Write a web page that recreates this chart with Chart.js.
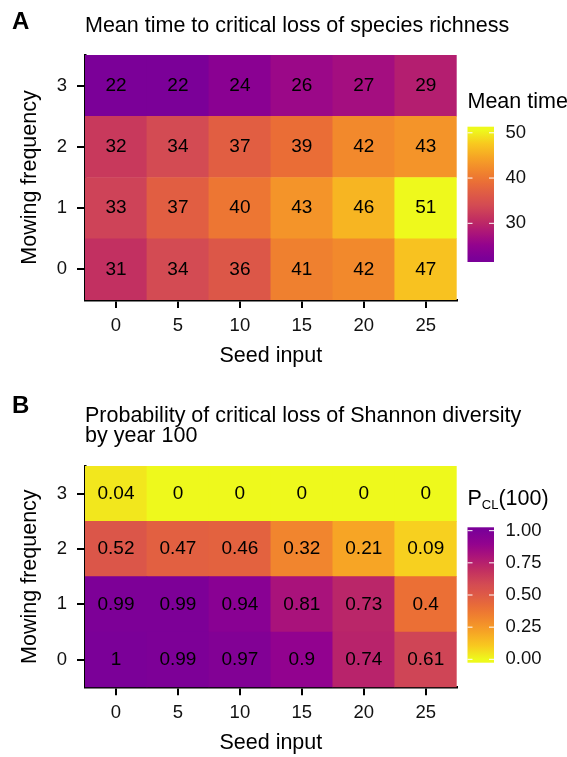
<!DOCTYPE html>
<html>
<head>
<meta charset="utf-8">
<script src="https://cdn.jsdelivr.net/npm/chart.js@4.4.0/dist/chart.umd.min.js"></script>
<style>
  html, body { margin: 0; padding: 0; background: #fff; }
  canvas { display: block; }
</style>
</head>
<body>
<canvas id="chartA" width="567" height="378"></canvas>
<canvas id="chartB" width="567" height="379"></canvas>
<script>
var seedInput = ['0', '5', '10', '15', '20', '25'];
var mowingFrequency = [0, 1, 2, 3];

// A: mean time to critical loss of species richness, one row per mowing frequency
var timeMow0 = [31, 34, 36, 41, 42, 47];
var timeMow1 = [33, 37, 40, 43, 46, 51];
var timeMow2 = [32, 34, 37, 39, 42, 43];
var timeMow3 = [22, 22, 24, 26, 27, 29];
var timeLimits = [22.2, 50.6];
var timeTicks = [30, 40, 50];

// B: probability of critical loss of Shannon diversity by year 100
var probMow0 = [1, 0.99, 0.97, 0.9, 0.74, 0.61];
var probMow1 = [0.99, 0.99, 0.94, 0.81, 0.73, 0.4];
var probMow2 = [0.52, 0.47, 0.46, 0.32, 0.21, 0.09];
var probMow3 = [0.04, 0, 0, 0, 0, 0];
var probLimits = [0, 1];
var probTicks = [0, 0.25, 0.5, 0.75, 1];

var paletteStops = ['#7b0098', '#92028f', '#ac1479', '#c02d62', '#d14855', '#de5a46',
                    '#eb6f35', '#f28a2c', '#f7a824', '#f8cb1f', '#eef91c'];

var FONT = "'Liberation Sans', Arial, Helvetica, sans-serif";
Chart.defaults.font.family = FONT;
Chart.defaults.color = '#000';

function hexToRgb(h) {
  return [parseInt(h.substr(1, 2), 16), parseInt(h.substr(3, 2), 16), parseInt(h.substr(5, 2), 16)];
}
function palette(t) {
  t = Math.max(0, Math.min(1, t));
  var n = paletteStops.length - 1;
  var i = Math.min(Math.floor(t * n), n - 1), f = t * n - i;
  var a = hexToRgb(paletteStops[i]), b = hexToRgb(paletteStops[i + 1]);
  return 'rgb(' + a.map(function (c, k) { return Math.round(c + (b[k] - c) * f); }).join(',') + ')';
}
function timeColour(v) { return palette((v - timeLimits[0]) / (timeLimits[1] - timeLimits[0])); }
function probColour(v) { return palette(1 - (v - probLimits[0]) / (probLimits[1] - probLimits[0])); }

function heatmap(id, rows, colour, cfg) {
  var datasets = rows.map(function (vals, r) {
    var m = mowingFrequency[r];
    return {
      data: vals.map(function () { return [m - 0.5, m + 0.5]; }),
      backgroundColor: vals.map(colour),
      borderWidth: 0,
      barPercentage: 1,
      categoryPercentage: 1,
      grouped: false
    };
  });

  // numbers written in the tiles
  var cellLabels = {
    id: 'cellLabels',
    afterDatasetsDraw: function (chart) {
      var ctx = chart.ctx, xs = chart.scales.x, ys = chart.scales.y;
      ctx.save();
      ctx.font = '19px ' + FONT;
      ctx.fillStyle = '#000';
      ctx.textAlign = 'center';
      ctx.textBaseline = 'middle';
      rows.forEach(function (vals, r) {
        vals.forEach(function (v, i) {
          ctx.fillText(String(v), xs.getPixelForValue(i), ys.getPixelForValue(mowingFrequency[r]));
        });
      });
      ctx.restore();
    }
  };

  // panel letter, title and colour bar legend
  var decorations = {
    id: 'decorations',
    afterDraw: function (chart) {
      var ctx = chart.ctx;
      ctx.save();
      ctx.fillStyle = '#000';
      ctx.textAlign = 'left';
      ctx.textBaseline = 'alphabetic';
      ctx.font = 'bold 24px ' + FONT;
      ctx.fillText(cfg.letter, 12, cfg.letterY);
      ctx.font = '21.5px ' + FONT;
      cfg.title.forEach(function (line, k) {
        ctx.fillText(line, chart.chartArea.left, cfg.titleY + k * 19.5);
      });
      cfg.drawLegendTitle(ctx, 467.5, cfg.legendTitleY);

      var x0 = 467.5, w = 26.5, top = cfg.barTop, bot = cfg.barBottom;
      var lo = cfg.limits[0], hi = cfg.limits[1], len = bot - top, inset = len / 40;
      var grad = ctx.createLinearGradient(0, bot, 0, top);
      for (var k = 0; k < 20; k++) {
        grad.addColorStop((k + 0.5) / 20, colour(lo + (hi - lo) * k / 19));
      }
      ctx.fillStyle = grad;
      ctx.fillRect(x0, top, w, len);

      ctx.strokeStyle = '#fff';
      ctx.lineWidth = 1;
      ctx.font = '18.5px ' + FONT;
      ctx.fillStyle = '#111';
      ctx.textBaseline = 'middle';
      cfg.ticks.forEach(function (v) {
        var y = bot - inset - (v - lo) / (hi - lo) * (len - 2 * inset);
        ctx.beginPath();
        ctx.moveTo(x0, y); ctx.lineTo(x0 + 5, y);
        ctx.moveTo(x0 + w - 5, y); ctx.lineTo(x0 + w, y);
        ctx.stroke();
        ctx.fillText(cfg.tickText(v), 505.5, y);
      });
      ctx.restore();
    }
  };

  var axisGrid = { offset: false, drawOnChartArea: false, color: '#000', lineWidth: 2, tickLength: 8 };
  var axisBorder = { color: '#000', width: 2.5 };

  return new Chart(document.getElementById(id), {
    type: 'bar',
    data: { labels: seedInput, datasets: datasets },
    options: {
      responsive: false,
      animation: false,
      devicePixelRatio: 1,
      layout: { padding: { left: 0, top: cfg.plotTop, right: 567 - 456.7, bottom: 0 } },
      plugins: { legend: { display: false }, tooltip: { enabled: false } },
      scales: {
        x: {
          type: 'category',
          offset: true,
          z: 1,
          grid: axisGrid,
          border: axisBorder,
          ticks: { font: { size: 18.5 }, color: '#111', padding: 7 },
          title: { display: true, text: 'Seed input', font: { size: 21.5 }, color: '#000',
                   padding: { top: 0, bottom: cfg.xTitlePad } },
          afterFit: function (s) { s.height = cfg.height - cfg.plotBottom; }
        },
        y: {
          type: 'linear',
          min: -0.5,
          max: 3.5,
          z: 1,
          afterBuildTicks: function (s) {
            s.ticks = mowingFrequency.map(function (v) { return { value: v }; });
          },
          grid: axisGrid,
          border: axisBorder,
          ticks: { font: { size: 18.5 }, color: '#111', padding: 10 },
          title: { display: true, text: 'Mowing frequency', font: { size: 21.5 }, color: '#000',
                   padding: { top: 17, bottom: 0 } },
          afterFit: function (s) { s.width = 85; }
        }
      }
    },
    plugins: [cellLabels, decorations]
  });
}

heatmap('chartA', [timeMow0, timeMow1, timeMow2, timeMow3], timeColour, {
  height: 378, plotTop: 55, plotBottom: 300, xTitlePad: 9,
  letter: 'A', letterY: 28.5,
  title: ['Mean time to critical loss of species richness'], titleY: 31.7,
  legendTitleY: 108.3,
  drawLegendTitle: function (ctx, x, y) {
    ctx.font = '21.5px ' + FONT;
    ctx.fillText('Mean time', x, y);
  },
  barTop: 126.7, barBottom: 262,
  limits: timeLimits, ticks: timeTicks,
  tickText: function (v) { return String(v); }
});

heatmap('chartB', [probMow0, probMow1, probMow2, probMow3], probColour, {
  height: 379, plotTop: 88, plotBottom: 309.3, xTitlePad: 0.8,
  letter: 'B', letterY: 35.3,
  title: ['Probability of critical loss of Shannon diversity', 'by year 100'], titleY: 44,
  legendTitleY: 127,
  drawLegendTitle: function (ctx, x, y) {
    ctx.font = '21.5px ' + FONT;
    ctx.fillText('P', x, y);
    var px = x + ctx.measureText('P').width;
    ctx.font = '13px ' + FONT;
    ctx.fillText('CL', px, y + 3.5);
    px += ctx.measureText('CL').width;
    ctx.font = '21.5px ' + FONT;
    ctx.fillText('(100)', px, y);
  },
  barTop: 149.3, barBottom: 284.7,
  limits: probLimits, ticks: probTicks,
  tickText: function (v) { return v.toFixed(2); }
});
</script>
</body>
</html>
